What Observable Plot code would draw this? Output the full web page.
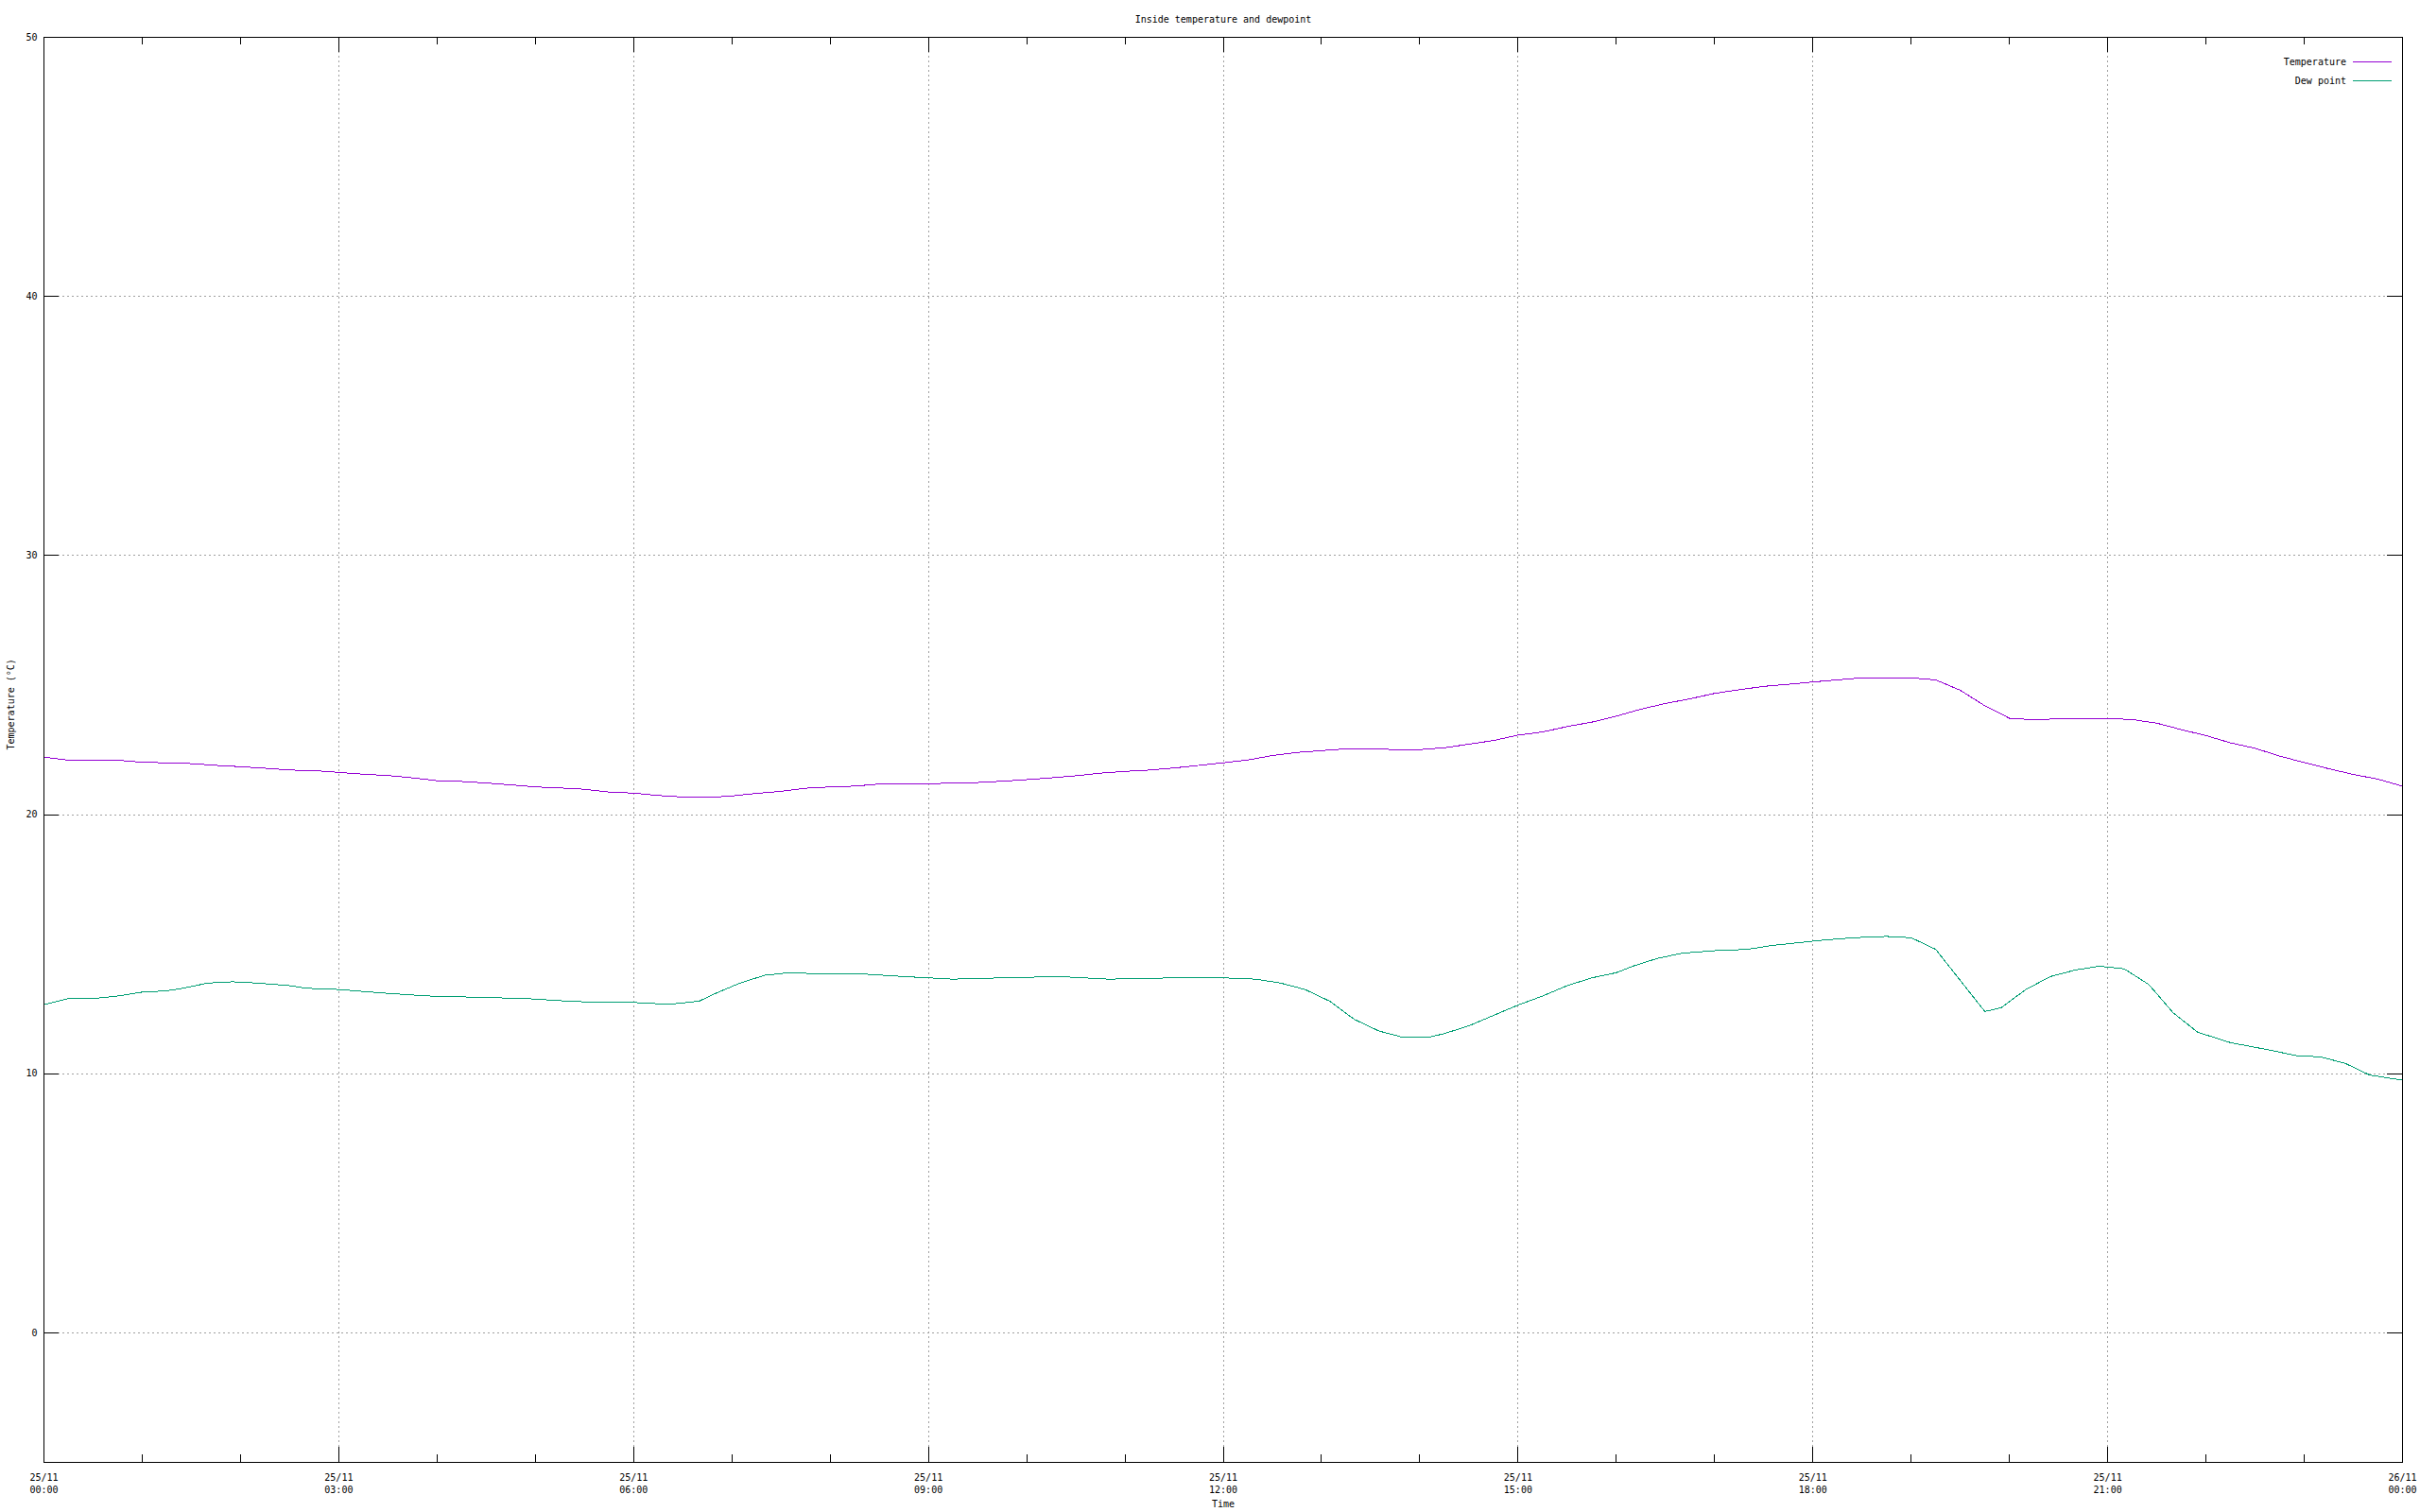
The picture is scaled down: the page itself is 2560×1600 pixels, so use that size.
<!DOCTYPE html>
<html><head><meta charset="utf-8">
<script src="https://cdn.jsdelivr.net/npm/d3@7"></script>
<script src="https://cdn.jsdelivr.net/npm/@observablehq/plot@0.6"></script>
<style>
html,body{margin:0;padding:0;background:#fff;overflow:hidden}
#wrap{position:relative;width:2560px;height:1600px}
.lg{position:absolute;font-family:"DejaVu Sans Mono",monospace;font-size:10px;color:#000;white-space:pre;line-height:20px;height:20px}
.sw{position:absolute;height:0;width:41px;border-top:1px solid}
</style></head><body><div id="wrap"></div>
<script>
const titleText = "Inside temperature and dewpoint";
const xLabel = "Time";
const yLabel = "Temperature (°C)";
const seriesNames = ["Temperature", "Dew point"];
const seriesColors = ["#9400d3", "#009e73"];

const tempTimes = ["00:00","00:15","00:30","00:45","01:00","01:15","01:30","01:45","02:00","02:15","02:30","02:45","03:00","03:15","03:30","03:45","04:00","04:15","04:30","04:45","05:00","05:15","05:30","05:45","06:00","06:15","06:30","06:45","07:00","07:15","07:30","07:45","08:00","08:15","08:30","08:45","09:00","09:15","09:30","09:45","10:00","10:15","10:30","10:45","11:00","11:15","11:30","11:45","12:00","12:15","12:30","12:45","13:00","13:15","13:30","13:45","14:00","14:15","14:30","14:45","15:00","15:15","15:30","15:45","16:00","16:15","16:30","16:45","17:00","17:15","17:30","17:45","18:00","18:15","18:30","18:45","19:00","19:15","19:30","19:45","20:00","20:15","20:30","20:45","21:00","21:15","21:30","21:45","22:00","22:15","22:30","22:45","23:00","23:15","23:30","23:45","24:00"];
const tempValues = [
  22.22, 22.10, 22.10, 22.10,
  22.02, 22.00, 21.97, 21.90,
  21.85, 21.79, 21.72, 21.70,
  21.63, 21.56, 21.51, 21.42,
  21.31, 21.28, 21.22, 21.15,
  21.07, 21.03, 20.98, 20.87,
  20.83, 20.74, 20.68, 20.66,
  20.72, 20.82, 20.90, 21.02,
  21.07, 21.10, 21.18, 21.20,
  21.20, 21.21, 21.24, 21.29,
  21.35, 21.42, 21.50, 21.60,
  21.67, 21.72, 21.80, 21.90,
  22.00, 22.11, 22.28, 22.40,
  22.47, 22.54, 22.54, 22.51,
  22.51, 22.58, 22.72, 22.86,
  23.07, 23.19, 23.40, 23.57,
  23.80, 24.07, 24.29, 24.47,
  24.68, 24.82, 24.95, 25.03,
  25.12, 25.20, 25.28, 25.28,
  25.28, 25.20, 24.80, 24.20,
  23.72, 23.66, 23.70, 23.71,
  23.71, 23.67, 23.53, 23.28,
  23.05, 22.77, 22.56, 22.26,
  22.01, 21.77, 21.55, 21.37,
  21.10];

const dewTimes = ["00:00","00:15","00:30","00:45","01:00","01:15","01:25","01:40","01:55","02:10","02:30","02:40","03:00","03:30","03:55","04:25","04:55","05:20","05:40","06:00","06:15","06:25","06:40","06:50","07:05","07:20","07:35","07:55","08:20","08:45","09:00","09:15","09:45","10:20","10:50","11:30","12:00","12:20","12:35","12:50","13:05","13:20","13:35","13:50","14:05","14:15","14:30","14:45","15:00","15:15","15:30","15:45","16:00","16:10","16:25","16:40","17:00","17:20","17:35","17:50","18:05","18:25","18:45","19:00","19:15","19:30","19:45","19:55","20:10","20:25","20:40","20:55","21:10","21:25","21:40","21:55","22:15","22:40","22:55","23:10","23:25","23:40","24:00"];
const dewValues = [
  12.67, 12.9, 12.9, 13.0, 13.15, 13.2, 13.3, 13.5, 13.55, 13.5,
  13.4, 13.3, 13.25, 13.1, 13.0, 12.95, 12.9, 12.8, 12.75, 12.75,
  12.7, 12.7, 12.8, 13.1, 13.5, 13.8, 13.9, 13.85, 13.85, 13.75,
  13.7, 13.65, 13.7, 13.75, 13.65, 13.7, 13.7, 13.65, 13.5, 13.25,
  12.8, 12.1, 11.65, 11.4, 11.4, 11.55, 11.85, 12.25, 12.65, 13.0,
  13.4, 13.7, 13.9, 14.15, 14.45, 14.65, 14.75, 14.8, 14.95, 15.05,
  15.15, 15.25, 15.3, 15.25, 14.8, 13.6, 12.4, 12.55, 13.25, 13.75,
  14.0, 14.15, 14.05, 13.45, 12.35, 11.6, 11.2, 10.9, 10.7, 10.65,
  10.4, 9.95, 9.75];

const majorTickTimes = ["00:00","03:00","06:00","09:00","12:00","15:00","18:00","21:00","24:00"];
const yTicks = [0, 10, 20, 30, 40, 50];
const yGridTicks = [0, 10, 20, 30, 40];
const yDomain = [-5, 50];

const W = 2560, H = 1600, mL = 46, mR = 19, mT = 39, mB = 53;
const fw = W - mL - mR, fh = H - mT - mB;
const base = Date.UTC(2024, 10, 25);
const toDate = s => { const [h, m] = s.split(":").map(Number); return new Date(base + (h * 60 + m) * 60000); };

const temp = tempTimes.map((t, i) => ({time: toDate(t), value: tempValues[i]}));
const dew = dewTimes.map((t, i) => ({time: toDate(t), value: dewValues[i]}));
const major = majorTickTimes.map(toDate);
const majorInner = major.slice(1, -1);
const x0 = toDate("00:00"), x1 = toDate("24:00");
const minor = d3.utcHour.range(x0, new Date(+x1 + 1));
const fmt = d3.utcFormat("%d/%m\n%H:%M");

const gridStyle = {stroke: "#a0a0a0", strokeDasharray: "2,3", strokeWidth: 1, shapeRendering: "crispEdges"};
const tickStyle = {stroke: "#000", strokeWidth: 1, shapeRendering: "crispEdges"};

const chart = Plot.plot({
  width: W, height: H,
  marginLeft: mL, marginRight: mR, marginTop: mT, marginBottom: mB,
  x: {type: "utc", domain: [x0, x1], axis: null},
  y: {domain: yDomain, axis: null},
  style: {fontFamily: "DejaVu Sans Mono, monospace", fontSize: "10px", background: "#fff", color: "#000", overflow: "visible"},
  marks: [
    Plot.ruleX(majorInner, {x: d => d, ...gridStyle}),
    Plot.ruleY(yGridTicks, {y: d => d, ...gridStyle}),
    Plot.line(temp, {x: "time", y: "value", stroke: seriesColors[0], strokeWidth: 1, shapeRendering: "crispEdges"}),
    Plot.line(dew, {x: "time", y: "value", stroke: seriesColors[1], strokeWidth: 1, shapeRendering: "crispEdges"}),
    Plot.tickX(major, {x: d => d, insetTop: fh - 16, ...tickStyle}),
    Plot.tickX(major, {x: d => d, insetBottom: fh - 16, ...tickStyle}),
    Plot.tickX(minor, {x: d => d, insetTop: fh - 8, ...tickStyle}),
    Plot.tickX(minor, {x: d => d, insetBottom: fh - 8, ...tickStyle}),
    Plot.tickY(yTicks, {y: d => d, insetRight: fw - 16, ...tickStyle}),
    Plot.tickY(yTicks, {y: d => d, insetLeft: fw - 16, ...tickStyle}),
    Plot.frame({stroke: "#000", strokeWidth: 1, shapeRendering: "crispEdges"}),
    Plot.text(yTicks, {y: d => d, text: d => String(d), frameAnchor: "left", lineAnchor: "middle", textAnchor: "end", dx: -7, fill: "#000"}),
    Plot.text(major, {x: d => d, text: d => fmt(d), frameAnchor: "bottom", lineAnchor: "top", dy: 10, lineHeight: 1.3, fill: "#000"}),
    Plot.text([titleText], {frameAnchor: "top", lineAnchor: "middle", dy: -19, fill: "#000"}),
    Plot.text([xLabel], {frameAnchor: "bottom", lineAnchor: "middle", dy: 44, fill: "#000"}),
    Plot.text([yLabel], {frameAnchor: "left", lineAnchor: "middle", dx: -35, rotate: -90, fill: "#000"})
  ]
});

const wrap = document.getElementById("wrap");
wrap.appendChild(chart);

// legend (top-right inside the frame, gnuplot style)
seriesNames.forEach((name, i) => {
  const t = document.createElement("div");
  t.className = "lg";
  t.style.right = (W - 2482) + "px";
  t.style.top = (56 + i * 20) + "px";
  t.textContent = name;
  wrap.appendChild(t);
  const s = document.createElement("div");
  s.className = "sw";
  s.style.left = "2489px";
  s.style.top = (65 + i * 20) + "px";
  s.style.borderTopColor = seriesColors[i];
  wrap.appendChild(s);
});
</script></body></html>
